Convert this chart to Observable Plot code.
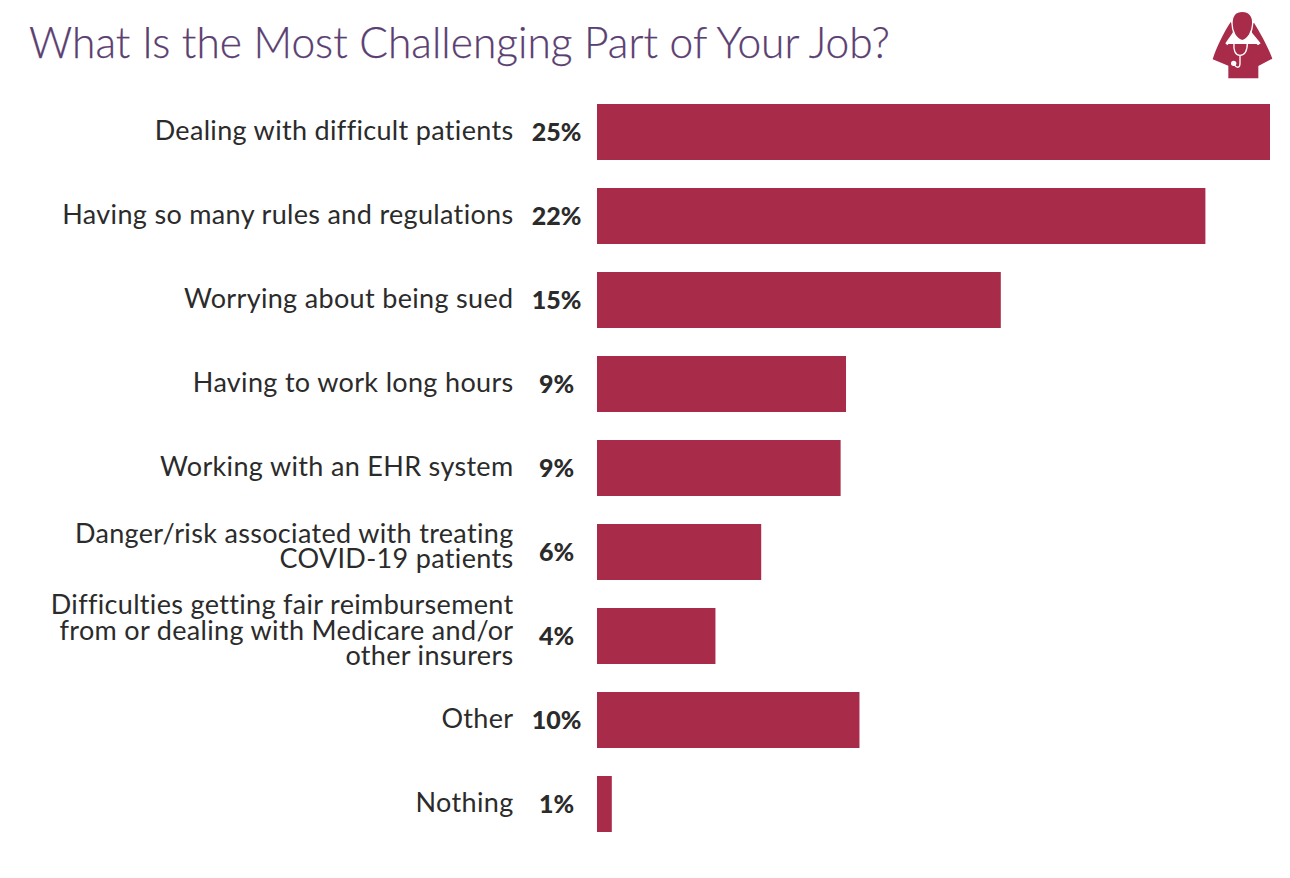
<!DOCTYPE html>
<html><head><meta charset="utf-8">
<script src="https://cdn.jsdelivr.net/npm/d3@7"></script>
<script src="https://cdn.jsdelivr.net/npm/@observablehq/plot@0.6"></script>
<style>
html,body{margin:0;padding:0;background:#fff;overflow:hidden}
#title{position:absolute;left:29px;top:16px;font:300 42.5px Lato,sans-serif;color:#5b3f72;white-space:nowrap;-webkit-text-stroke:.25px #5b3f72}
#chart{position:absolute;left:0;top:0}
#icon{position:absolute;left:1190px;top:0;width:100px;height:90px}
</style></head><body>
<div id="chart"></div><div id="title">What Is the Most Challenging Part of Your Job?</div>
<svg id="icon" viewBox="0 0 300 270" aria-hidden="true">
 <path fill="#a92b4a" d="M122 66L130 76L128 98L106 130L112 136L115 132H200L204 136L212 130L186 98L184 76L192 68C208 95 232 135 247 176L205 198V235H115V197L68 178C80 140 100 100 122 66Z"/>
 <path fill="#a92b4a" stroke="#fff" stroke-width="4" d="M126 70C126 45 140 34 157 34C178 34 190 50 188 72C187 95 175 117 157 122C138 117 126 95 126 70Z"/>
 <path fill="none" stroke="#fff" stroke-width="4" d="M132 130C130 150 135 165 150 166C168 165 172 150 172 128M150 166V190C150 205 140 205 132 193"/>
 <circle cx="131" cy="190" r="8" fill="#fff"/>
</svg>
<script>
const categories=["Dealing with difficult patients","Having so many rules and regulations","Worrying about being sued","Having to work long hours","Working with an EHR system","Danger/risk associated with treating\nCOVID-19 patients","Difficulties getting fair reimbursement\nfrom or dealing with Medicare and/or\nother insurers","Other","Nothing"];
const values=[25,22.6,15,9.25,9.05,6.1,4.4,9.75,0.55];
const labels=["25%","22%","15%","9%","9%","6%","4%","10%","1%"];
const rows=categories.map((c,i)=>({c,v:values[i],l:labels[i]}));
const catText={x:0,y:"c",text:"c",textAnchor:"end",fontSize:27,lineHeight:0.94,fill:"#2b2b2b",fontFamily:"Lato"};
const plot=Plot.plot({width:1290,height:878,marginLeft:597,marginRight:20,marginTop:90,marginBottom:32,
 x:{domain:[0,25],axis:null},
 y:{domain:categories,axis:null,paddingInner:1/3,paddingOuter:1/6,round:false},
 marks:[
  Plot.barX(rows,{x:"v",y:"c",fill:"#a92b4a"}),
  Plot.text(rows.filter(d=>!d.c.includes("\n")),{...catText,dx:-84,dy:-1}),
  Plot.text(rows.filter(d=>d.c.includes("\n")),{...catText,dx:-84,dy:-5}),
  Plot.text(rows,{x:0,y:"c",text:"l",textAnchor:"middle",dx:-41,fontSize:25,fontWeight:900,fill:"#2b2b2b",fontFamily:"Lato"})
 ]});
plot.querySelectorAll('g[font-size="27"]').forEach(g=>g.style.letterSpacing="0.33px");
document.getElementById("chart").append(plot);
</script></body></html>
